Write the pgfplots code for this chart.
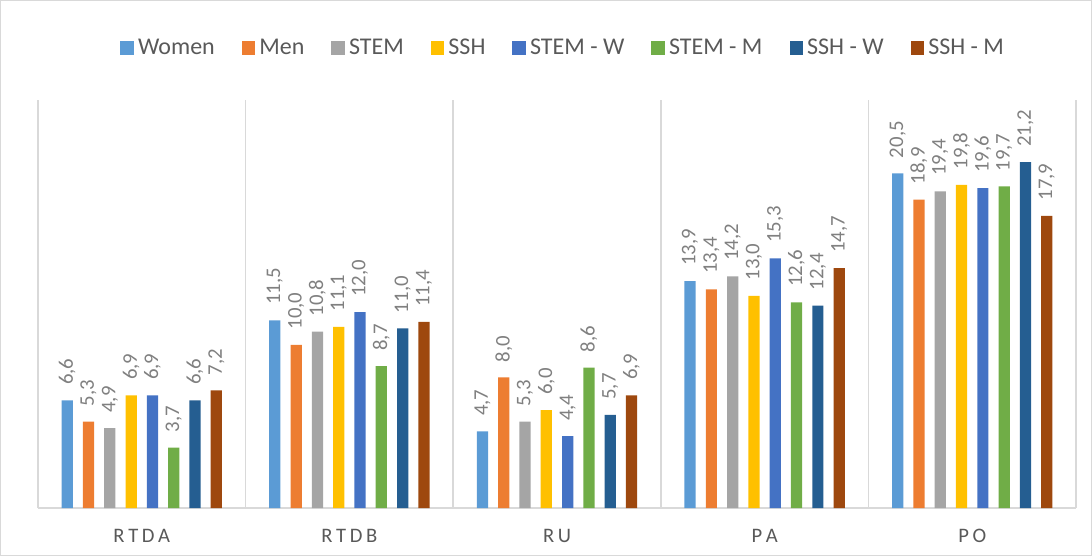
\documentclass[border=0pt]{standalone}
\usepackage{pgfplots}
\pgfplotsset{compat=1.18}
\usepackage{fontspec}
\setmainfont{Carlito}

\definecolor{cWomen}{HTML}{5B9BD5}
\definecolor{cMen}{HTML}{ED7D31}
\definecolor{cSTEM}{HTML}{A5A5A5}
\definecolor{cSSH}{HTML}{FFC000}
\definecolor{cSTEMW}{HTML}{4472C4}
\definecolor{cSTEMM}{HTML}{70AD47}
\definecolor{cSSHW}{HTML}{255E91}
\definecolor{cSSHM}{HTML}{9E480E}
\definecolor{txt}{HTML}{595959}
\definecolor{lbl}{HTML}{808080}
\definecolor{gridc}{HTML}{D9D9D9}

\newcommand{\ls}{\hspace{1.8pt}}

\begin{document}
\begin{tikzpicture}
\useasboundingbox (-19pt,-24pt) rectangle (527pt,254pt);
\draw[gridc, line width=0.6pt] (-18.7pt,-23.7pt) rectangle (526.7pt,253.7pt);
\begin{axis}[
    at={(0,0)}, anchor=south west,
    scale only axis,
    width=519pt, height=204pt,
    xmin=-0.5, xmax=4.5,
    ymin=0, ymax=25,
    ybar,
    bar width=0.054,
    axis x line*=bottom,
    axis y line=none,
    x axis line style={draw=gridc, line width=0.8pt, -},
    xtick={0,1,2,3,4},
    xticklabels={R\ls T\ls D\ls A, R\ls T\ls D\ls B, R\ls U, P\ls A, P\ls O},
    xticklabel style={font=\fontsize{10.3}{12}\selectfont, text=txt, yshift=-7pt},
    ytick=\empty,
    major tick length=0pt,
    minor tick length=0pt,
    minor xtick={-0.5,0.5,1.5,2.5,3.5,4.5},
    xminorgrids=true,
    minor x grid style={draw=gridc, line width=0.8pt},
    clip=false,
    nodes near coords={\pgfmathprintnumber[fixed, fixed zerofill, precision=1, use comma, assume math mode=true]{\pgfplotspointmeta}},
    nodes near coords style={rotate=90, anchor=west, inner xsep=7.5pt, inner ysep=0pt,
        font=\fontsize{10.4}{12}\selectfont, text=lbl},
    legend columns=-1,
    legend cell align=left,
    legend image code/.code={\fill[#1] (0pt,-3.4pt) rectangle (6.8pt,3.4pt);},
    legend style={at={(0.507,1.127)}, anchor=center, draw=none, fill=none,
        font=\fontsize{12}{14}\selectfont, text=txt,
        /tikz/every even column/.append style={column sep=11.5pt}},
]

\addplot[fill=cWomen, draw=none, bar shift=-0.3591] coordinates {(0,6.6) (1,11.5) (2,4.7) (3,13.9) (4,20.5)};
\addlegendentry{Women}
\addplot[fill=cMen, draw=none, bar shift=-0.2565] coordinates {(0,5.3) (1,10.0) (2,8.0) (3,13.4) (4,18.9)};
\addlegendentry{Men}
\addplot[fill=cSTEM, draw=none, bar shift=-0.1539] coordinates {(0,4.9) (1,10.8) (2,5.3) (3,14.2) (4,19.4)};
\addlegendentry{STEM}
\addplot[fill=cSSH, draw=none, bar shift=-0.0513] coordinates {(0,6.9) (1,11.1) (2,6.0) (3,13.0) (4,19.8)};
\addlegendentry{SSH}
\addplot[fill=cSTEMW, draw=none, bar shift=0.0513] coordinates {(0,6.9) (1,12.0) (2,4.4) (3,15.3) (4,19.6)};
\addlegendentry{STEM - W}
\addplot[fill=cSTEMM, draw=none, bar shift=0.1539] coordinates {(0,3.7) (1,8.7) (2,8.6) (3,12.6) (4,19.7)};
\addlegendentry{STEM - M}
\addplot[fill=cSSHW, draw=none, bar shift=0.2565] coordinates {(0,6.6) (1,11.0) (2,5.7) (3,12.4) (4,21.2)};
\addlegendentry{SSH - W}
\addplot[fill=cSSHM, draw=none, bar shift=0.3591] coordinates {(0,7.2) (1,11.4) (2,6.9) (3,14.7) (4,17.9)};
\addlegendentry{SSH - M}

\end{axis}
\end{tikzpicture}
\end{document}
